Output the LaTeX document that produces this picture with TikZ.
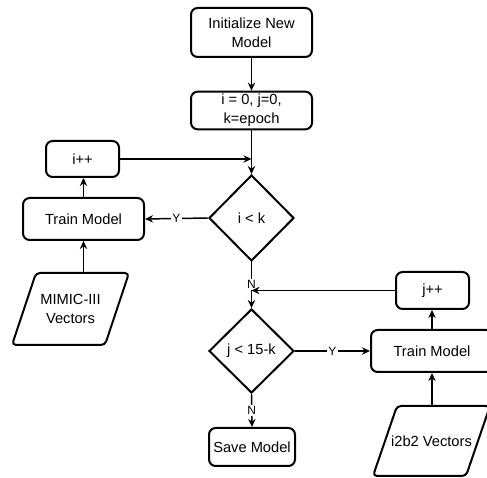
\documentclass[tikz,border=0pt]{standalone}
\usepackage{fontspec}
\setmainfont{Liberation Sans}
\usetikzlibrary{shapes.geometric,arrows.meta}
\begin{document}
\begin{tikzpicture}[x=0.75pt,y=-0.75pt,
  box/.style={draw,line width=1.5pt,rounded corners=5pt,align=center,
    font=\fontsize{11}{14}\selectfont,inner sep=2pt},
  dec/.style={diamond,draw,line width=1.5pt,align=center,inner sep=0pt,
    minimum width=63.75pt,minimum height=64.5pt,font=\fontsize{11}{14}\selectfont},
  iopath/.style={draw,line width=1.5pt,rounded corners=3pt},
  iotext/.style={align=center,inner sep=0pt,font=\fontsize{11}{14}\selectfont},
  conn/.style={line width=1.1pt,-{Stealth[length=6pt,width=5.5pt]}},
  lab/.style={fill=white,font=\fontsize{9}{10}\selectfont,inner sep=1pt}]
\useasboundingbox (0,0) rectangle (487,478);
\node[box,minimum width=90.75pt,minimum height=36.75pt] (init) at (251.5,32.5) {Initialize New\\Model};
\node[box,minimum width=90.75pt,minimum height=27.75pt] (set) at (251.5,110.5) {i = 0, j=0,\\k=epoch};
\node[box,minimum width=54.75pt,minimum height=27pt] (ipp) at (82.5,159) {i++};
\node[dec] (d1) at (251.5,218) {i < k};
\node[box,minimum width=90.75pt,minimum height=31.5pt] (tr1) at (83.5,219) {Train Model};
% MIMIC-III parallelogram
\path[iopath] (12,345) -- (36,273) -- (129,273) -- (105,345) -- cycle;
\node[iotext] (mimic) at (70.5,309) {MIMIC-III\\Vectors};
\coordinate (mimictop) at (83.5,273);
\node[dec,minimum height=63pt] (d2) at (251.5,351) {j < 15-k};
\node[box,minimum width=54.75pt,minimum height=27.75pt] (jpp) at (432.5,290.5) {j++};
\node[box,minimum width=91.5pt,minimum height=31.5pt] (tr2) at (432,351) {Train Model};
% i2b2 parallelogram
\path[iopath] (373,476) -- (397,406) -- (490,406) -- (466,476) -- cycle;
\node[iotext] (i2b2) at (431.5,441) {i2b2 Vectors};
\coordinate (i2b2top) at (432,406);
\node[box,minimum width=64.5pt,minimum height=28.5pt] (save) at (252,447) {Save Model};
\draw[conn] (init.south) -- (set.north);
\draw[conn] (set.south) -- (d1.north);
\draw[conn] (ipp.east) -- (ipp.east -| d1.north);
\draw[conn] (d1.west) -- node[lab]{Y} (tr1.east);
\draw[conn] (tr1.north) -- (tr1.north |- ipp.south);
\draw[conn] (mimictop) -- (tr1.south);
\draw[conn] (d1.south) -- node[lab,pos=0.48]{N} (d2.north);
\draw[conn] (jpp.west) -- (jpp.west -| d1.south);
\draw[conn] (d2.east) -- node[lab]{Y} (tr2.west);
\draw[conn] (tr2.north) -- (tr2.north |- jpp.south);
\draw[conn] (i2b2top) -- (tr2.south);
\draw[conn] (d2.south) -- node[lab]{N} (save.north);
\end{tikzpicture}
\end{document}
